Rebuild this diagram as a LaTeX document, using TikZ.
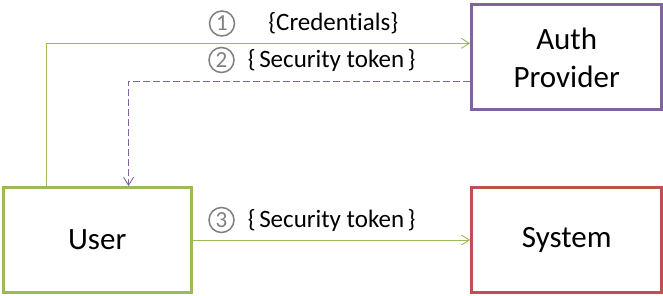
\documentclass[tikz,border=0pt]{standalone}
\usepackage{fontspec}
\setmainfont{Carlito}[Ligatures=NoCommon]
\usetikzlibrary{arrows.meta}
\definecolor{boxgreen}{HTML}{9BBB59}
\definecolor{boxpurple}{HTML}{8064A2}
\definecolor{boxred}{HTML}{C0504D}
\definecolor{stepgray}{HTML}{7F7F7F}
\tikzset{
  party/.style={draw, line width=3pt, fill=white, align=center,
    font=\fontsize{31}{38}\selectfont, inner sep=0pt},
  msg/.style={line width=0.9pt, -{Straight Barb[length=8pt,width=10pt,line width=0.9pt]}},
  stepnum/.style={circle, draw=stepgray, line width=1.5pt, text=stepgray,
    minimum size=25pt, inner sep=0pt, font=\fontsize{23}{23}\selectfont},
  msglabel/.style={font=\fontsize{25}{25}\selectfont, inner sep=0pt, text=black},
}
\newcommand{\bracegap}{\hspace{3.5pt}}
\begin{document}
\begin{tikzpicture}[x=1pt, y=-1pt]
  \useasboundingbox (0,0) rectangle (663,296);

  % the three parties
  \node[party, draw=boxgreen, minimum width=187.7pt, minimum height=104.8pt]
    (user) at (97.2,240) {User};
  \node[party, draw=boxpurple, minimum width=190pt, minimum height=105pt]
    (auth) at (566.7,57.5) {Auth\\Provider};
  \node[party, draw=boxred, minimum width=190pt, minimum height=104.5pt]
    (system) at (566.7,240.2) {System};

  % 1: credentials go to the auth provider
  \draw[msg, draw=boxgreen]
    ([xshift=44.3pt]user.north west) |- ([yshift=14.2pt]auth.west);
  % 2: security token comes back
  \draw[msg, draw=boxpurple, dash pattern=on 7pt off 3pt]
    ([yshift=-23.5pt]auth.west) -| ([xshift=126.7pt]user.north west);
  % 3: security token is presented to the system
  \draw[msg, draw=boxgreen] (user.east) -- (user.east -| system.west);

  % step markers and message labels
  \node[stepnum] (s1) at (222,23.5) {1};
  \node[stepnum] (s2) at (221.5,60) {2};
  \node[stepnum] (s3) at (221.5,220) {3};
  \node[msglabel] (m1) at (333.3,23) {\{Credentials\}};
  \node[msglabel] (m2) at (331.7,60.5) {\{\bracegap Security token\bracegap\}};
  \node[msglabel] (m3) at (331.7,220) {\{\bracegap Security token\bracegap\}};
\end{tikzpicture}
\end{document}
